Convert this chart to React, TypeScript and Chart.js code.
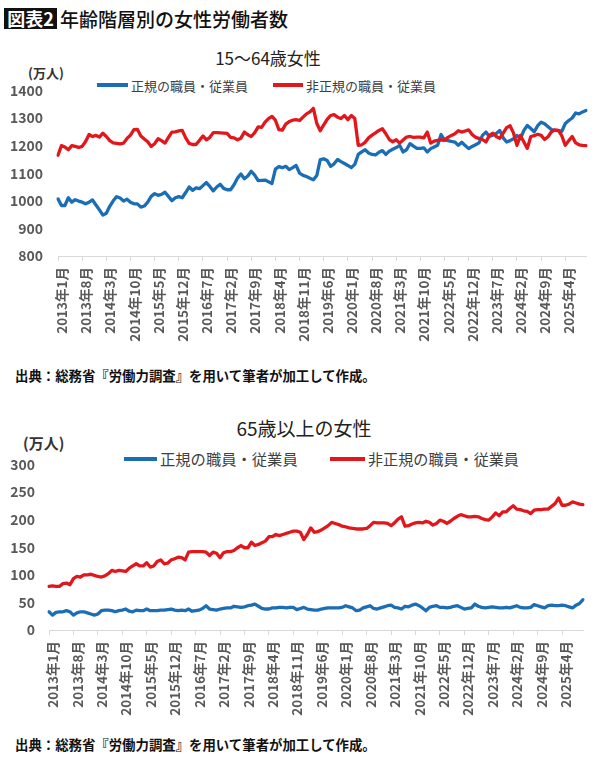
import React, { useEffect, useRef } from "react";
import { Chart, registerables } from "chart.js";

Chart.register(...registerables);

const FONT = '"Noto Sans CJK JP", "Noto Sans", sans-serif';
const BLUE = "#1b6db5";
const RED = "#e2171c";
const TICK_GRAY = "#595959";

// monthly categories 2013年1月 .. 2025年10月
const months: string[] = [];
for (let y = 2013; y <= 2025; y++) {
  for (let m = 1; m <= 12; m++) {
    if (y === 2025 && m > 10) break;
    months.push(`${y}年${m}月`);
  }
}

const seriesNames = ["正規の職員・従業員", "非正規の職員・従業員"];

// 15～64歳女性 (万人)
const regular1564 = [
  1007, 983, 983, 1011, 995, 1004, 999, 995, 989, 995,
  1003, 985, 967, 948, 955, 980, 1000, 1015, 1010, 999,
  1006, 995, 989, 989, 977, 981, 995, 1016, 1026, 1020,
  1023, 1031, 1016, 1000, 1011, 1015, 1011, 1030, 1050, 1038,
  1047, 1044, 1055, 1066, 1052, 1036, 1050, 1060, 1045, 1040,
  1040, 1058, 1082, 1097, 1080, 1090, 1107, 1093, 1073, 1074,
  1075, 1069, 1063, 1115, 1124, 1120, 1125, 1113, 1120, 1128,
  1100, 1092, 1088, 1082, 1076, 1092, 1149, 1152, 1146, 1125,
  1134, 1150, 1142, 1135, 1128, 1120, 1132, 1168, 1177, 1185,
  1173, 1168, 1166, 1176, 1182, 1168, 1180, 1187, 1193, 1201,
  1177, 1185, 1207, 1198, 1190, 1190, 1192, 1177, 1189, 1195,
  1201, 1240, 1221, 1218, 1215, 1213, 1201, 1212, 1200, 1189,
  1197, 1203, 1210, 1237, 1249, 1233, 1238, 1244, 1255, 1228,
  1213, 1218, 1225, 1237, 1225, 1255, 1273, 1262, 1250, 1272,
  1285, 1279, 1268, 1258, 1255, 1254, 1252, 1280, 1291, 1300,
  1318, 1315, 1322, 1327,
];
const nonRegular1564 = [
  1165, 1200, 1195, 1185, 1200, 1197, 1193, 1197, 1215, 1240,
  1233, 1237, 1231, 1245, 1233, 1218, 1210, 1208, 1206, 1209,
  1226, 1238, 1258, 1259, 1235, 1224, 1214, 1197, 1207, 1225,
  1218, 1209, 1230, 1249, 1250, 1253, 1255, 1228, 1208, 1204,
  1204, 1219, 1235, 1221, 1230, 1247, 1247, 1246, 1245, 1244,
  1230, 1228, 1221, 1227, 1249, 1239, 1233, 1247, 1268, 1266,
  1285, 1298, 1306, 1292, 1258, 1256, 1278, 1287, 1292, 1294,
  1291, 1303, 1315, 1322, 1335, 1280, 1254, 1275, 1295, 1309,
  1312, 1303, 1298, 1309, 1294, 1309, 1298, 1201, 1203, 1212,
  1228, 1238, 1246, 1255, 1261, 1243, 1222, 1214, 1221, 1209,
  1220, 1231, 1233, 1230, 1231, 1231, 1228, 1249, 1209, 1216,
  1219, 1221, 1219, 1230, 1237, 1243, 1254, 1249, 1253, 1257,
  1240, 1230, 1226, 1222, 1213, 1237, 1245, 1233, 1226, 1245,
  1265, 1272, 1245, 1201, 1237, 1213, 1190, 1233, 1236, 1241,
  1237, 1222, 1232, 1250, 1257, 1255, 1235, 1201, 1218, 1233,
  1210, 1203, 1201, 1200,
];

// 65歳以上の女性 (万人)
const regular65 = [
  33, 27, 32, 33, 33, 35, 33, 27, 31, 33,
  33, 31, 29, 27, 29, 35, 36, 36, 35, 33,
  35, 36, 38, 34, 33, 36, 35, 35, 38, 35,
  35, 35, 36, 36, 37, 38, 36, 35, 36, 35,
  38, 34, 35, 36, 39, 44, 38, 37, 36, 38,
  39, 40, 40, 43, 42, 41, 42, 44, 45, 47,
  43, 39, 38, 38, 40, 40, 41, 41, 40, 41,
  41, 37, 39, 41, 38, 37, 36, 36, 38, 39,
  40, 40, 40, 40, 41, 44, 42, 40, 35, 36,
  40, 42, 44, 39, 38, 40, 42, 44, 45, 41,
  40, 38, 43, 42, 45, 47, 44, 40, 35, 41,
  43, 44, 41, 41, 40, 41, 43, 44, 41, 38,
  39, 40, 47, 43, 41, 40, 41, 42, 41, 40,
  40, 41, 40, 42, 44, 41, 40, 40, 41, 46,
  44, 42, 40, 44, 45, 44, 44, 45, 44, 42,
  40, 45, 48, 55,
];
const nonRegular65 = [
  79, 80, 79, 79, 84, 85, 82, 93, 97, 96,
  100, 100, 101, 99, 97, 96, 98, 102, 108, 106,
  108, 107, 106, 112, 116, 120, 116, 116, 122, 114,
  116, 124, 127, 120, 121, 127, 129, 132, 131, 127,
  141, 142, 142, 142, 142, 141, 135, 141, 139, 131,
  140, 142, 142, 144, 149, 153, 149, 149, 159, 153,
  155, 158, 161, 169, 169, 173, 171, 173, 175, 177,
  179, 179, 177, 164, 173, 185, 177, 178, 181, 185,
  189, 195, 193, 191, 188, 187, 185, 184, 183, 183,
  183, 184, 189, 195, 194, 194, 194, 193, 189, 194,
  201, 205, 188, 189, 192, 194, 195, 194, 197, 195,
  190, 193, 199, 197, 193, 197, 202, 206, 209, 207,
  205, 205, 206, 205, 202, 200, 199, 205, 212, 207,
  214, 214, 220, 225, 219, 218, 216, 215, 211, 217,
  218, 218, 219, 219, 224, 229, 239, 226, 226, 228,
  232, 230, 228, 227,
];

const LABEL_EVERY = 7;

interface PanelProps {
  top: number;
  height: number;
  regular: number[];
  nonRegular: number[];
  yMin: number;
  yMax: number;
  yStep: number;
  yWidth: number;
  yPad: number;
  padRight: number;
}

function Panel(props: PanelProps) {
  const canvasRef = useRef<HTMLCanvasElement | null>(null);

  useEffect(() => {
    if (!canvasRef.current) return;
    const line = (label: string, data: number[], color: string, order: number) => ({
      label,
      data,
      borderColor: color,
      backgroundColor: color,
      borderWidth: 3.3,
      pointRadius: 0,
      tension: 0,
      fill: false,
      order,
      borderJoinStyle: "round" as const,
      borderCapStyle: "round" as const,
    });
    const chart = new Chart(canvasRef.current, {
      type: "line",
      data: {
        labels: months,
        datasets: [
          line(seriesNames[0], props.regular, BLUE, 1),
          line(seriesNames[1], props.nonRegular, RED, 0),
        ],
      },
      options: {
        animation: false,
        responsive: false,
        maintainAspectRatio: false,
        layout: { padding: { top: 10, right: props.padRight, left: 0, bottom: 0 } },
        plugins: {
          legend: { display: false },
          title: { display: false },
          tooltip: { enabled: false },
        },
        scales: {
          x: {
            type: "category",
            offset: false,
            border: { display: true, color: "#d9d9d9", width: 1 },
            grid: {
              display: true,
              drawOnChartArea: false,
              drawTicks: true,
              tickLength: 5,
              color: "#d9d9d9",
            },
            ticks: {
              autoSkip: false,
              maxRotation: 90,
              minRotation: 90,
              padding: 6,
              labelOffset: 4,
              color: TICK_GRAY,
              font: { family: FONT, size: 13.5, weight: "bold" },
              callback: (_v: any, i: number) => (i % LABEL_EVERY === 0 ? months[i] : null),
            },
            afterFit: (s: any) => {
              s.height = 95;
            },
          },
          y: {
            min: props.yMin,
            max: props.yMax,
            border: { display: false },
            grid: { display: false, drawTicks: false },
            ticks: {
              stepSize: props.yStep,
              padding: props.yPad,
              color: TICK_GRAY,
              font: { family: FONT, size: 14, weight: "bold" },
              callback: (v: any) => String(v),
            },
            afterFit: (s: any) => {
              s.width = props.yWidth;
            },
          },
        },
      },
    });
    return () => chart.destroy();
  }, []);

  return (
    <canvas
      ref={canvasRef}
      width={600}
      height={props.height}
      style={{
        position: "absolute",
        left: 0,
        top: props.top,
        width: 600,
        height: props.height,
        display: "block",
      }}
    />
  );
}

function Txt(props: {
  x: number;
  y: number;
  size: number;
  weight?: number | string;
  color?: string;
  center?: boolean;
  children: React.ReactNode;
}) {
  return (
    <div
      style={{
        position: "absolute",
        left: props.x,
        top: props.y,
        transform: props.center ? "translate(-50%, -50%)" : "translateY(-50%)",
        fontFamily: FONT,
        fontSize: props.size,
        fontWeight: props.weight ?? 400,
        color: props.color ?? "#222",
        lineHeight: 1,
        whiteSpace: "nowrap",
      }}
    >
      {props.children}
    </div>
  );
}

function LegendItem(props: { x: number; y: number; w: number; color: string; text: string; size: number }) {
  return (
    <>
      <div
        style={{
          position: "absolute",
          left: props.x,
          top: props.y - 2,
          width: props.w,
          height: 4,
          background: props.color,
        }}
      />
      <Txt x={props.x + props.w + 3} y={props.y} size={props.size} color="#404040">
        {props.text}
      </Txt>
    </>
  );
}

const SOURCE = "出典：総務省『労働力調査』を用いて筆者が加工して作成。";

export default function App() {
  return (
    <div
      style={{
        position: "absolute",
        left: 0,
        top: 0,
        width: 600,
        height: 757,
        background: "#fff",
        overflow: "hidden",
      }}
    >
      <div
        style={{
          position: "absolute",
          left: 4,
          top: 8,
          width: 53,
          height: 21,
          background: "#111",
          color: "#fff",
          fontFamily: FONT,
          fontWeight: 700,
          fontSize: 18,
          lineHeight: "21px",
          textAlign: "center",
        }}
      >
        図表2
      </div>
      <Txt x={60} y={18} size={19} weight={500} color="#111">
        年齢階層別の女性労働者数
      </Txt>

      {/* 15～64歳 */}
      <Txt x={268} y={57} size={17} center>
        15～64歳女性
      </Txt>
      <Txt x={28} y={72} size={13} weight={700} color="#333">
        (万人)
      </Txt>
      <LegendItem x={97} y={85} w={31} color={BLUE} text={seriesNames[0]} size={13} />
      <LegendItem x={273} y={85} w={30} color={RED} text={seriesNames[1]} size={13} />
      <Panel
        top={67}
        height={284}
        regular={regular1564}
        nonRegular={nonRegular1564}
        yMin={800}
        yMax={1400}
        yStep={100}
        yWidth={58}
        yPad={15}
        padRight={14}
      />
      <Txt x={15} y={376} size={13.4} weight={700} color="#111">
        {SOURCE}
      </Txt>

      {/* 65歳以上 */}
      <Txt x={304} y={427} size={19} center>
        65歳以上の女性
      </Txt>
      <Txt x={23} y={442} size={15} weight={700} color="#333">
        (万人)
      </Txt>
      <LegendItem x={124} y={459} w={33} color={BLUE} text={seriesNames[0]} size={15.3} />
      <LegendItem x={330} y={459} w={35} color={RED} text={seriesNames[1]} size={15.1} />
      <Panel
        top={442}
        height={283}
        regular={regular65}
        nonRegular={nonRegular65}
        yMin={0}
        yMax={300}
        yStep={50}
        yWidth={49}
        yPad={14}
        padRight={17}
      />
      <Txt x={15} y={745} size={13.4} weight={700} color="#111">
        {SOURCE}
      </Txt>
    </div>
  );
}
